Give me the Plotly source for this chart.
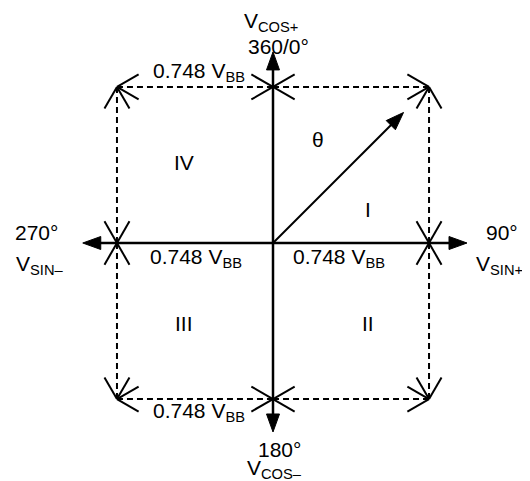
import numpy as np
import plotly.graph_objects as go

# ---------------- data ----------------
HALF = 0.748                       # half side of the dashed square (x V_BB)
AXIS_DIRS = ["up", "right", "down", "left"]
AXIS_TIPS = [0.916, 0.930, 0.906, 0.912]   # length of each solid axis arrow
VECTOR_ANGLE_DEG = 45.0            # theta measured from V_COS+ toward V_SIN+
VECTOR_LENGTH = 0.885

QUAD_LABELS = ["I", "II", "III", "IV"]
QUAD_X = [0.455, 0.455, -0.427, -0.427]
QUAD_Y = [0.163, -0.388, -0.388, 0.384]

DIM_LABEL = "0.748 V<sub>BB</sub>"
DIM_X = [-0.355, -0.369, 0.316, -0.355]
DIM_Y = [0.818, -0.072, -0.072, -0.812]

END_TEXT = ["V<sub>COS+</sub>", "360/0°", "270°", "V<sub>SIN–</sub>",
            "90°", "V<sub>SIN+</sub>", "180°", "V<sub>COS–</sub>", "θ"]
END_X = [-0.010, 0.024, -1.136, -1.117, 1.098, 1.084, 0.029, 0.005, 0.216]
END_Y = [1.059, 0.940, 0.048, -0.105, 0.048, -0.105, -0.992, -1.084, 0.494]

# ---------------- geometry helpers ----------------
PAGE_OFF = 8                   # browser body margin
PX = 208.6                     # pixels per unit
CX, CY = 273.0 - PAGE_OFF, 243.0 - PAGE_OFF   # centre pixel inside the figure
W, H = 530 - PAGE_OFF, 481 - PAGE_OFF
HEAD_LEN = 18 / PX
HEAD_HALF = 6.5 / PX
BARB_LEN = 25 / PX
BARB_ANG = np.deg2rad(30)

DIRV = {"up": (0, 1), "down": (0, -1), "left": (-1, 0), "right": (1, 0)}

fig = go.Figure()


def filled_head(tip, u):
    tip = np.asarray(tip, float)
    u = np.asarray(u, float) / np.linalg.norm(u)
    n = np.array([-u[1], u[0]])
    base = tip - HEAD_LEN * u
    p1 = base + HEAD_HALF * n
    p2 = base - HEAD_HALF * n
    return [tip[0], p1[0], p2[0], tip[0], None], [tip[1], p1[1], p2[1], tip[1], None]


def barbs(tip, u):
    tip = np.asarray(tip, float)
    u = np.asarray(u, float) / np.linalg.norm(u)
    xs, ys = [], []
    for s in (1, -1):
        a = s * BARB_ANG
        r = np.array([u[0] * np.cos(a) - u[1] * np.sin(a),
                      u[0] * np.sin(a) + u[1] * np.cos(a)])
        b = tip - BARB_LEN * r
        xs += [b[0], tip[0], None]
        ys += [b[1], tip[1], None]
    return xs, ys


# dashed square, split into 8 dimension segments (corner -> axis)
corners = [(-HALF, HALF), (HALF, HALF), (HALF, -HALF), (-HALF, -HALF)]
mids = [(0, HALF), (HALF, 0), (0, -HALF), (-HALF, 0)]
segs = []
for i, c in enumerate(corners):
    segs.append((c, mids[i]))             # toward next midpoint
    segs.append((c, mids[(i - 1) % 4]))   # toward previous midpoint

dx, dy, bx, by = [], [], [], []
for p, q in segs:
    dx += [p[0], q[0], None]
    dy += [p[1], q[1], None]
    p_, q_ = np.array(p, float), np.array(q, float)
    for tip, u in ((q_, q_ - p_), (p_, p_ - q_)):
        xs, ys = barbs(tip, u)
        bx += xs
        by += ys

for i in range(0, len(dx), 3):
    fig.add_trace(go.Scatter(x=dx[i:i + 3], y=dy[i:i + 3], mode="lines",
                             line=dict(color="black", width=2, dash="6px,4px"),
                             hoverinfo="skip", showlegend=False))
fig.add_trace(go.Scatter(x=bx, y=by, mode="lines",
                         line=dict(color="black", width=2),
                         hoverinfo="skip", showlegend=False))

# solid axes with filled heads
ax_, ay_, hx, hy = [], [], [], []
for d, L in zip(AXIS_DIRS, AXIS_TIPS):
    u = np.array(DIRV[d], float)
    tip = L * u
    end = tip - (HEAD_LEN - 1 / PX) * u
    ax_ += [0, end[0], None]
    ay_ += [0, end[1], None]
    xs, ys = filled_head(tip, u)
    hx += xs
    hy += ys

# theta vector
th = np.deg2rad(VECTOR_ANGLE_DEG)
u = np.array([np.sin(th), np.cos(th)])
tip = VECTOR_LENGTH * u
end = tip - (HEAD_LEN - 1 / PX) * u
vx = [0, end[0]]
vy = [0, end[1]]
xs, ys = filled_head(tip, u)
hx += xs
hy += ys

fig.add_trace(go.Scatter(x=ax_, y=ay_, mode="lines",
                         line=dict(color="black", width=2.5),
                         hoverinfo="skip", showlegend=False))
fig.add_trace(go.Scatter(x=vx, y=vy, mode="lines",
                         line=dict(color="black", width=2),
                         hoverinfo="skip", showlegend=False))
fig.add_trace(go.Scatter(x=hx, y=hy, mode="lines", fill="toself",
                         fillcolor="black", line=dict(color="black", width=1),
                         hoverinfo="skip", showlegend=False))

FONT = dict(family="Liberation Sans, Arial, sans-serif", size=21, color="black")

for t, x, y in zip(QUAD_LABELS, QUAD_X, QUAD_Y):
    fig.add_annotation(x=x, y=y, text=t, showarrow=False, font=FONT,
                       xanchor="center", yanchor="middle")
for x, y in zip(DIM_X, DIM_Y):
    fig.add_annotation(x=x, y=y, text=DIM_LABEL, showarrow=False, font=FONT,
                       xanchor="center", yanchor="middle")
for t, x, y in zip(END_TEXT, END_X, END_Y):
    fig.add_annotation(x=x, y=y, text=t, showarrow=False, font=FONT,
                       xanchor="center", yanchor="middle")

fig.update_layout(
    width=W, height=H, margin=dict(l=0, r=0, t=0, b=0),
    paper_bgcolor="white", plot_bgcolor="white",
    xaxis=dict(range=[-CX / PX, (W - CX) / PX], visible=False, fixedrange=True),
    yaxis=dict(range=[-(H - CY) / PX, CY / PX], visible=False, fixedrange=True),
    showlegend=False,
)

fig.write_html("out.html")
